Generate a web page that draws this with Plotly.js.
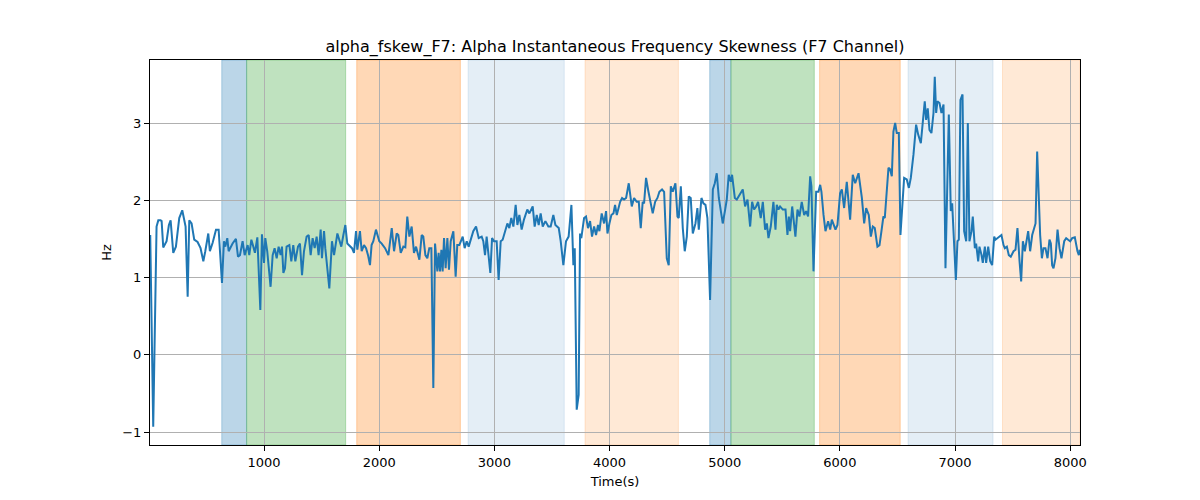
<!DOCTYPE html>
<html>
<head>
<meta charset="utf-8">
<script src="https://cdn.plot.ly/plotly-3.0.1.min.js"></script>
<style>
  body { margin: 0; background: #fff; }
  #chart { width: 1200px; height: 500px; }
</style>
</head>
<body>
<div id="chart"></div>
<script>
// time (s) and alpha instantaneous frequency skewness (Hz)
var times = [
  12, 38, 67, 82, 102, 111, 125, 140, 154, 174, 189, 212, 235, 264, 290, 319, 337, 351, 371, 394,
  423, 449, 473, 490, 516, 530, 554, 583, 606, 635, 652, 664, 681, 693, 710, 727, 756, 774, 791, 814,
  832, 858, 872, 890, 907, 921, 942, 968, 982, 1000, 1011, 1028, 1057, 1075, 1092, 1110, 1127, 1144, 1156, 1168,
  1182, 1196, 1220, 1237, 1254, 1272, 1295, 1312, 1330, 1347, 1370, 1388, 1405, 1422, 1440, 1457, 1474, 1492, 1503, 1521,
  1532, 1567, 1590, 1608, 1637, 1654, 1671, 1689, 1706, 1723, 1747, 1764, 1781, 1799, 1810, 1833, 1848, 1868, 1886, 1903,
  1920, 1934, 1949, 1972, 2001, 2022, 2051, 2080, 2109, 2129, 2152, 2166, 2187, 2210, 2227, 2244, 2262, 2282, 2302, 2320,
  2349, 2369, 2383, 2401, 2418, 2435, 2453, 2470, 2485, 2505, 2516, 2528, 2540, 2551, 2563, 2577, 2592, 2606, 2621, 2644,
  2664, 2678, 2696, 2725, 2742, 2760, 2777, 2794, 2817, 2841, 2864, 2890, 2904, 2919, 2933, 2965, 2980, 2997, 3020, 3037,
  3055, 3072, 3090, 3113, 3130, 3147, 3165, 3185, 3200, 3217, 3237, 3257, 3286, 3304, 3333, 3350, 3368, 3385, 3402, 3420,
  3443, 3469, 3489, 3512, 3530, 3559, 3576, 3599, 3622, 3645, 3669, 3686, 3698, 3715, 3732, 3744, 3755, 3779, 3796, 3813,
  3831, 3848, 3866, 3883, 3900, 3912, 3932, 3953, 3970, 3982, 3999, 4016, 4034, 4048, 4063, 4077, 4092, 4109, 4126, 4144,
  4167, 4193, 4213, 4236, 4254, 4271, 4288, 4300, 4317, 4338, 4358, 4375, 4396, 4416, 4433, 4456, 4474, 4497, 4514, 4532,
  4549, 4572, 4590, 4601, 4619, 4636, 4653, 4671, 4688, 4705, 4723, 4746, 4763, 4775, 4798, 4815, 4833, 4850, 4873, 4897,
  4914, 4931, 4949, 4966, 4983, 5004, 5018, 5035, 5053, 5064, 5088, 5105, 5130, 5157, 5177, 5198, 5221, 5238, 5255, 5273,
  5290, 5313, 5331, 5351, 5366, 5380, 5400, 5423, 5441, 5452, 5467, 5481, 5504, 5528, 5545, 5557, 5568, 5586, 5614, 5632,
  5649, 5669, 5690, 5707, 5724, 5742, 5753, 5771, 5794, 5814, 5829, 5840, 5858, 5875, 5898, 5916, 5930, 5962, 5979, 6002,
  6017, 6037, 6060, 6089, 6112, 6133, 6162, 6191, 6211, 6228, 6251, 6269, 6286, 6303, 6326, 6344, 6361, 6378, 6390, 6407,
  6422, 6436, 6451, 6465, 6480, 6494, 6512, 6526, 6541, 6558, 6581, 6599, 6616, 6639, 6662, 6680, 6703, 6726, 6737, 6749,
  6763, 6778, 6795, 6813, 6824, 6836, 6847, 6865, 6882, 6900, 6917, 6946, 6963, 6975, 6992, 7007, 7021, 7033, 7047, 7065,
  7079, 7097, 7111, 7125, 7143, 7154, 7172, 7183, 7201, 7212, 7230, 7241, 7259, 7270, 7288, 7305, 7322, 7340, 7351, 7369,
  7386, 7403, 7421, 7432, 7450, 7467, 7484, 7508, 7525, 7542, 7560, 7574, 7589, 7606, 7635, 7652, 7670, 7687, 7699, 7713,
  7728, 7739, 7754, 7768, 7785, 7803, 7820, 7832, 7843, 7855, 7872, 7890, 7907, 7924, 7948, 7965, 7982, 8000, 8017, 8040,
  8063, 8075, 8083
];
var skewHz = [
  1.55, -0.93, 1.66, 1.74, 1.74, 1.73, 1.39, 1.44, 1.47, 1.68, 1.74, 1.32, 1.40, 1.77, 1.87, 1.66, 0.75, 1.74, 1.70, 1.49,
  1.46, 1.38, 1.21, 1.34, 1.57, 1.34, 1.45, 1.62, 1.62, 0.93, 1.47, 1.40, 1.51, 1.34, 1.40, 1.44, 1.50, 1.27, 1.29, 1.47,
  1.29, 1.42, 1.29, 1.49, 1.40, 1.32, 1.52, 0.58, 1.56, 1.19, 1.51, 1.34, 0.88, 1.29, 1.38, 1.25, 1.40, 1.29, 1.40, 1.06,
  1.12, 1.40, 1.42, 1.21, 1.42, 1.21, 1.40, 1.44, 1.03, 1.34, 1.53, 1.55, 1.29, 1.51, 1.38, 1.53, 1.29, 1.62, 1.25, 1.60,
  1.38, 0.86, 1.47, 1.29, 1.57, 1.49, 1.40, 1.55, 1.68, 1.44, 1.40, 1.38, 1.32, 1.60, 1.36, 1.60, 1.34, 1.42, 1.38, 1.29,
  1.16, 1.42, 1.47, 1.62, 1.47, 1.44, 1.38, 1.29, 1.64, 1.34, 1.57, 1.55, 1.32, 1.40, 1.39, 1.79, 1.53, 1.66, 1.32, 1.40,
  1.23, 1.55, 1.53, 1.29, 1.25, 1.38, 1.38, -0.43, 1.44, 1.08, 1.32, 1.08, 1.36, 1.08, 1.51, 1.12, 1.51, 1.10, 1.47, 1.60,
  1.01, 1.42, 1.42, 1.53, 1.38, 1.47, 1.40, 1.49, 1.60, 1.66, 1.51, 1.53, 1.47, 1.29, 1.53, 1.06, 1.51, 1.47, 1.47, 0.97,
  1.47, 1.49, 1.60, 1.70, 1.64, 1.77, 1.66, 1.94, 1.68, 1.81, 1.62, 1.75, 1.88, 1.83, 1.92, 1.66, 1.81, 1.68, 1.83, 1.66,
  1.73, 1.66, 1.66, 1.81, 1.68, 1.64, 1.47, 1.16, 1.47, 1.53, 1.94, 1.16, 1.38, -0.71, -0.52, 1.57, 1.51, 1.77, 1.79, 1.64,
  1.73, 1.53, 1.66, 1.55, 1.68, 1.60, 1.83, 1.70, 1.86, 1.57, 1.70, 1.81, 1.83, 1.94, 1.81, 1.88, 1.98, 2.03, 2.01, 2.03,
  2.22, 1.92, 2.03, 1.98, 1.98, 1.64, 1.98, 1.96, 2.29, 2.11, 1.94, 1.83, 1.98, 2.03, 2.11, 2.14, 2.11, 1.25, 1.16, 2.18,
  2.11, 2.22, 1.79, 1.77, 2.18, 1.64, 1.34, 1.53, 2.05, 2.03, 1.57, 1.70, 1.90, 1.62, 2.03, 1.96, 1.94, 1.77, 0.71, 2.14,
  2.22, 2.35, 2.03, 1.86, 1.70, 1.88, 2.01, 2.33, 2.24, 2.33, 2.03, 2.01, 2.07, 2.14, 1.92, 2.01, 1.66, 1.98, 1.88, 1.92,
  1.98, 1.77, 1.98, 1.62, 1.70, 1.51, 1.66, 1.98, 1.62, 1.94, 1.88, 1.92, 1.88, 1.88, 1.55, 1.79, 1.60, 1.92, 1.53, 1.88,
  1.79, 1.98, 1.81, 1.86, 1.79, 2.31, 2.18, 1.08, 2.11, 2.11, 2.20, 2.11, 1.81, 1.60, 1.73, 1.62, 1.75, 1.62, 1.68, 2.09,
  2.14, 1.90, 2.24, 1.75, 2.33, 2.22, 2.35, 2.03, 1.70, 1.90, 1.81, 1.53, 1.66, 1.64, 1.40, 1.42, 1.60, 1.79, 1.77, 2.16,
  2.42, 2.40, 2.31, 2.89, 3.00, 2.87, 2.87, 1.55, 1.96, 2.29, 2.27, 2.16, 2.29, 2.59, 2.98, 2.85, 2.74, 3.17, 3.28, 3.04,
  3.19, 2.91, 2.87, 3.13, 3.60, 3.13, 3.28, 3.26, 3.13, 3.24, 1.12, 3.11, 1.86, 1.96, 1.49, 0.97, 1.47, 1.49, 3.30, 3.37,
  1.60, 1.47, 3.00, 1.47, 1.60, 1.79, 1.38, 1.44, 1.21, 1.40, 1.29, 1.19, 1.40, 1.19, 1.40, 1.21, 1.16, 1.53, 1.49, 1.51,
  1.53, 1.55, 1.42, 1.38, 1.40, 1.29, 1.27, 1.34, 1.36, 1.64, 1.21, 0.95, 1.47, 1.34, 1.60, 1.34, 1.55, 1.64, 1.70, 2.63,
  2.01, 1.55, 1.25, 1.38, 1.38, 1.25, 1.49, 1.44, 1.16, 1.12, 1.25, 1.62, 1.38, 1.25, 1.47, 1.51, 1.49, 1.47, 1.51, 1.52,
  1.34, 1.29, 1.36
];

// shaded segments
var spanStart = [633, 849, 1805, 2772, 3787, 4870, 5054, 5824, 6592, 7412];
var spanEnd   = [849, 1709, 2705, 3607, 4598, 5054, 5778, 6524, 7330, 8085];
var spanColor = [
  'rgba(31,119,180,0.3)', 'rgba(44,160,44,0.3)', 'rgba(255,127,14,0.3)', 'rgba(31,119,180,0.12)', 'rgba(255,127,14,0.17)',
  'rgba(31,119,180,0.3)', 'rgba(44,160,44,0.3)', 'rgba(255,127,14,0.3)', 'rgba(31,119,180,0.12)', 'rgba(255,127,14,0.17)'
];

var shapes = spanStart.map(function (s, i) {
  return {
    type: 'rect', xref: 'x', yref: 'paper',
    x0: s, x1: spanEnd[i], y0: 0, y1: 1,
    fillcolor: spanColor[i],
    line: { color: spanColor[i], width: 1 },
    layer: 'below'
  };
});

var trace = {
  x: times,
  y: skewHz,
  type: 'scatter',
  mode: 'lines',
  line: { color: '#1f77b4', width: 2 },
  hoverinfo: 'skip'
};

var axisCommon = {
  showline: true, mirror: true, linecolor: '#000', linewidth: 1,
  ticks: 'outside', ticklen: 5, tickwidth: 1, tickcolor: '#000',
  showgrid: true, gridcolor: '#b0b0b0', gridwidth: 1,
  zeroline: false,
  tickfont: { size: 13, color: '#000' }
};

var layout = {
  width: 1200, height: 500,
  font: { family: 'DejaVu Sans, sans-serif', size: 13, color: '#000' },
  paper_bgcolor: '#fff', plot_bgcolor: 'rgba(0,0,0,0)',
  margin: { l: 150, r: 120, t: 60, b: 55, pad: 0 },
  title: {
    text: 'alpha_fskew_F7: Alpha Instantaneous Frequency Skewness (F7 Channel)',
    font: { size: 16, color: '#000' },
    x: 0.5125, xanchor: 'center',
    y: 0.908, yanchor: 'middle', yref: 'container'
  },
  xaxis: Object.assign({}, axisCommon, {
    range: [10, 8085],
    tickvals: [1000, 2000, 3000, 4000, 5000, 6000, 7000, 8000],
    title: { text: 'Time(s)', font: { size: 13, color: '#000' }, standoff: 8 }
  }),
  yaxis: Object.assign({}, axisCommon, {
    range: [-1.168, 3.816],
    tickvals: [-1, 0, 1, 2, 3],
    title: { text: 'Hz', font: { size: 13, color: '#000' }, standoff: 7 }
  }),
  shapes: shapes,
  showlegend: false
};

Plotly.newPlot('chart', [trace], layout, { displayModeBar: false, staticPlot: true });
</script>
</body>
</html>
